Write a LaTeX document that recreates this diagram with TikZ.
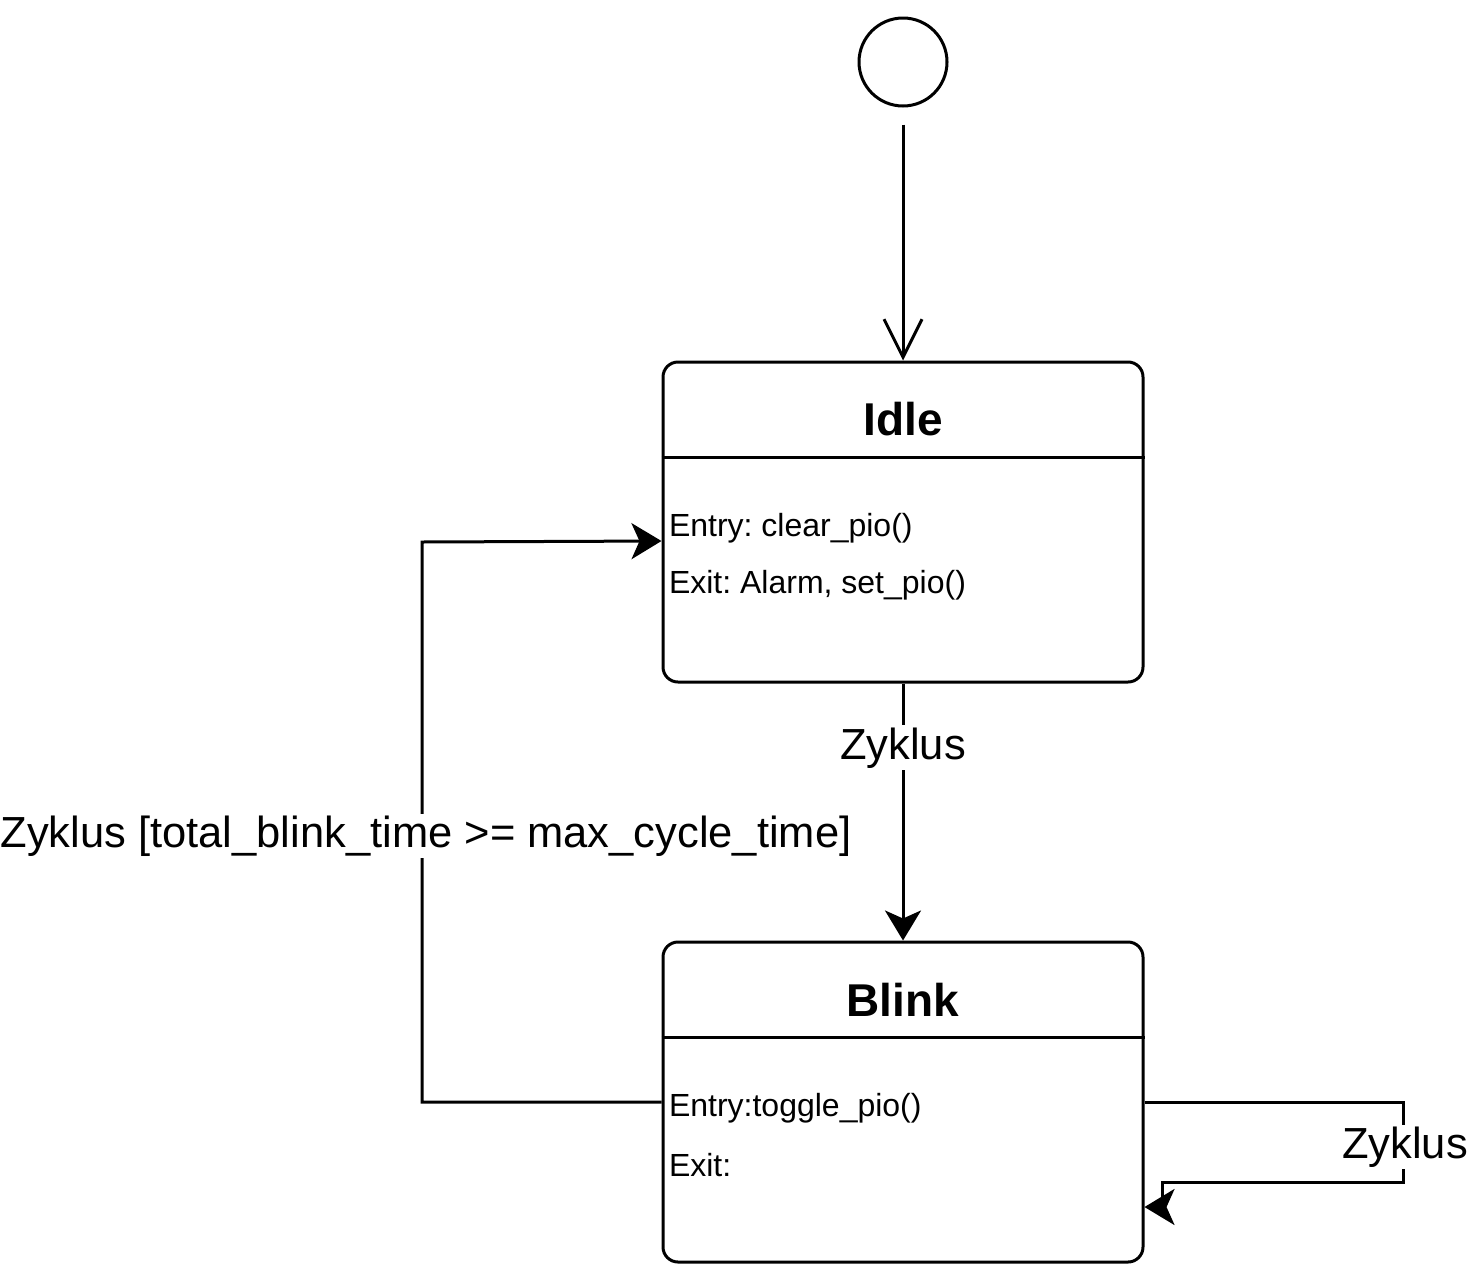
\documentclass[tikz,border=0pt]{standalone}
\usepackage{fontspec}
\setmainfont{Liberation Sans}
\usetikzlibrary{arrows.meta}
\frenchspacing

\begin{document}
\begin{tikzpicture}[x=1pt, y=-1pt, line width=3pt, >={Stealth[length=30pt,width=36pt,inset=8pt]}]

% Styles
\tikzset{
  state/.style={draw, rounded corners=15pt, minimum width=480pt, minimum height=320pt, inner sep=0pt},
  start/.style={draw, circle, minimum size=88pt, inner sep=0pt},
  title/.style={font=\fontsize{46}{50}\selectfont\bfseries},
  act/.style={font=\fontsize{32}{36}\selectfont, anchor=west, inner sep=0pt},
  trans/.style={font=\fontsize{43.5}{48}\selectfont, fill=white, inner sep=2pt},
  flow/.style={->},
  init/.style={-{Straight Barb[length=38pt,width=38pt]}}
}

\useasboundingbox (0,0) rectangle (1472,1264);

% Initial state
\node[start] (begin) at (903,62) {};

% States
\node[state] (idle) at (903,522) {};
\node[title] at ([yshift=-59pt]idle.north) {Idle};
\draw ([yshift=-97pt]idle.north west) -- ([yshift=-97pt]idle.north east);
\node[act] at ([xshift=6pt,yshift=-168pt]idle.north west) {Entry: clear\_pio()};
\node[act] at ([xshift=6pt,yshift=-225pt]idle.north west) {Exit: Alarm, set\_pio()};

\node[state] (blink) at (903,1102) {};
\node[title] at ([yshift=-59pt]blink.north) {Blink};
\draw ([yshift=-97pt]blink.north west) -- ([yshift=-97pt]blink.north east);
\node[act] at ([xshift=6pt,yshift=-168pt]blink.north west) {Entry:toggle\_pio()};
\node[act] at ([xshift=6pt,yshift=-225pt]blink.north west) {Exit:};

% Corner points
\coordinate (back) at (422,542);
\coordinate (loopA) at (1403,1102);
\coordinate (loopB) at (1403,1182);
\coordinate (loopC) at (1162,1182);
\coordinate (loopD) at (1162,1207);

% Transitions
\draw[init] ([yshift=-17pt]begin.south) -- (idle.north);

\draw[flow] (idle.south) -- (blink.north)
  node[trans, pos=0.25] {Zyklus};

\draw[flow] (blink.west) -| (back) -- ([yshift=-19pt]idle.west);
\node[trans] at (426,836) {Zyklus [total\_blink\_time >= max\_cycle\_time]};

\draw[flow] (blink.east) -- (loopA) -- (loopB) -- (loopC) -- (loopD) -- ([yshift=-105pt]blink.east);
\node[trans] at (1405,1147) {Zyklus};

\end{tikzpicture}
\end{document}
